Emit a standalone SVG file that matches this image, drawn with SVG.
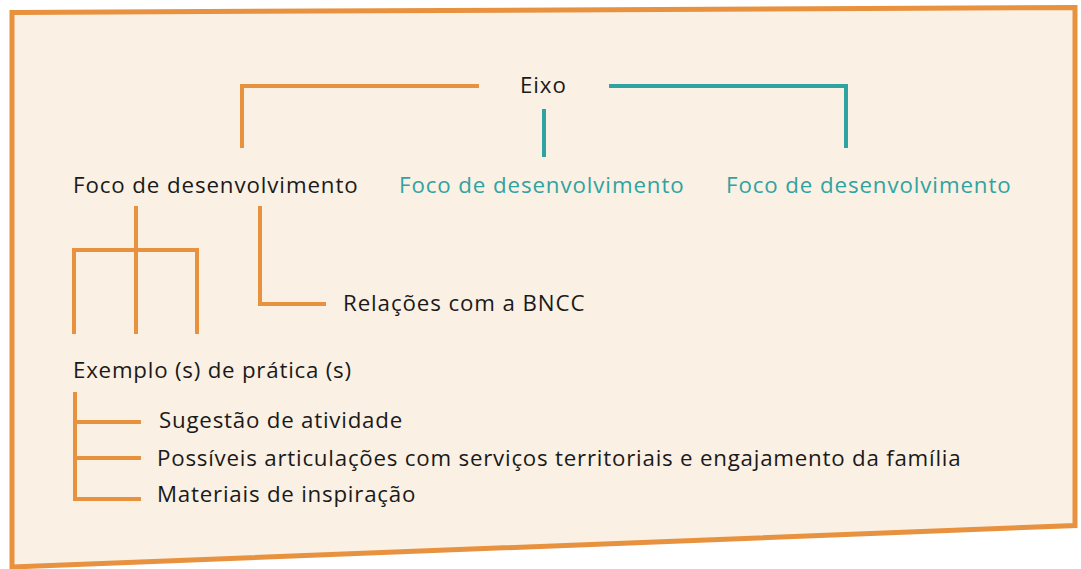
<svg xmlns="http://www.w3.org/2000/svg" width="1081" height="569" viewBox="0 0 1081 569">
<style>
.t{font-family:"Open Sans","Noto Sans","Liberation Sans",sans-serif;font-size:22.3px;letter-spacing:0.9px;fill:#1a1a1a}
.n{letter-spacing:0.78px}
.tl{fill:#2fa3a1}
.o{stroke:#e8913f;stroke-width:4;fill:none}
.g{stroke:#2fa3a1;stroke-width:4;fill:none}
</style>
<rect width="1081" height="569" fill="#ffffff"/>
<polygon points="12,12.5 1075,7.5 1075,525.5 12,567" fill="#faf1e4" stroke="#e8913f" stroke-width="5" stroke-linejoin="miter"/>
<g id="connectors">
<path class="o" d="M242,148 V86 H479"/>
<path class="g" d="M609,86 H846 V148"/>
<path class="g" d="M544,109 V157"/>
<path class="o" d="M136,206 V334 M74,334 V250 H197 V334"/>
<path class="o" d="M260,206 V304 H326"/>
<path class="o" d="M141,422 H75 V392 M75,422 V499 H141 M75,458 H141"/>
</g>
<g id="eixo"><text class="t" x="520" y="93">Eixo</text></g>
<g id="foco1"><text class="t" x="73" y="193">Foco de desenvolvimento</text></g>
<g id="foco2"><text class="t tl" x="399" y="193">Foco de desenvolvimento</text></g>
<g id="foco3"><text class="t tl" x="726" y="193">Foco de desenvolvimento</text></g>
<g id="bncc"><text class="t" x="343" y="311">Relações com a BNCC</text></g>
<g id="exemplo"><text class="t n" x="73" y="378">Exemplo (s) de prática (s)</text></g>
<g id="sugestao"><text class="t n" x="159" y="428">Sugestão de atividade</text></g>
<g id="possiveis"><text class="t n" x="157" y="466">Possíveis articulações com serviços territoriais e engajamento da família</text></g>
<g id="materiais"><text class="t n" x="157" y="502">Materiais de inspiração</text></g>
</svg>
